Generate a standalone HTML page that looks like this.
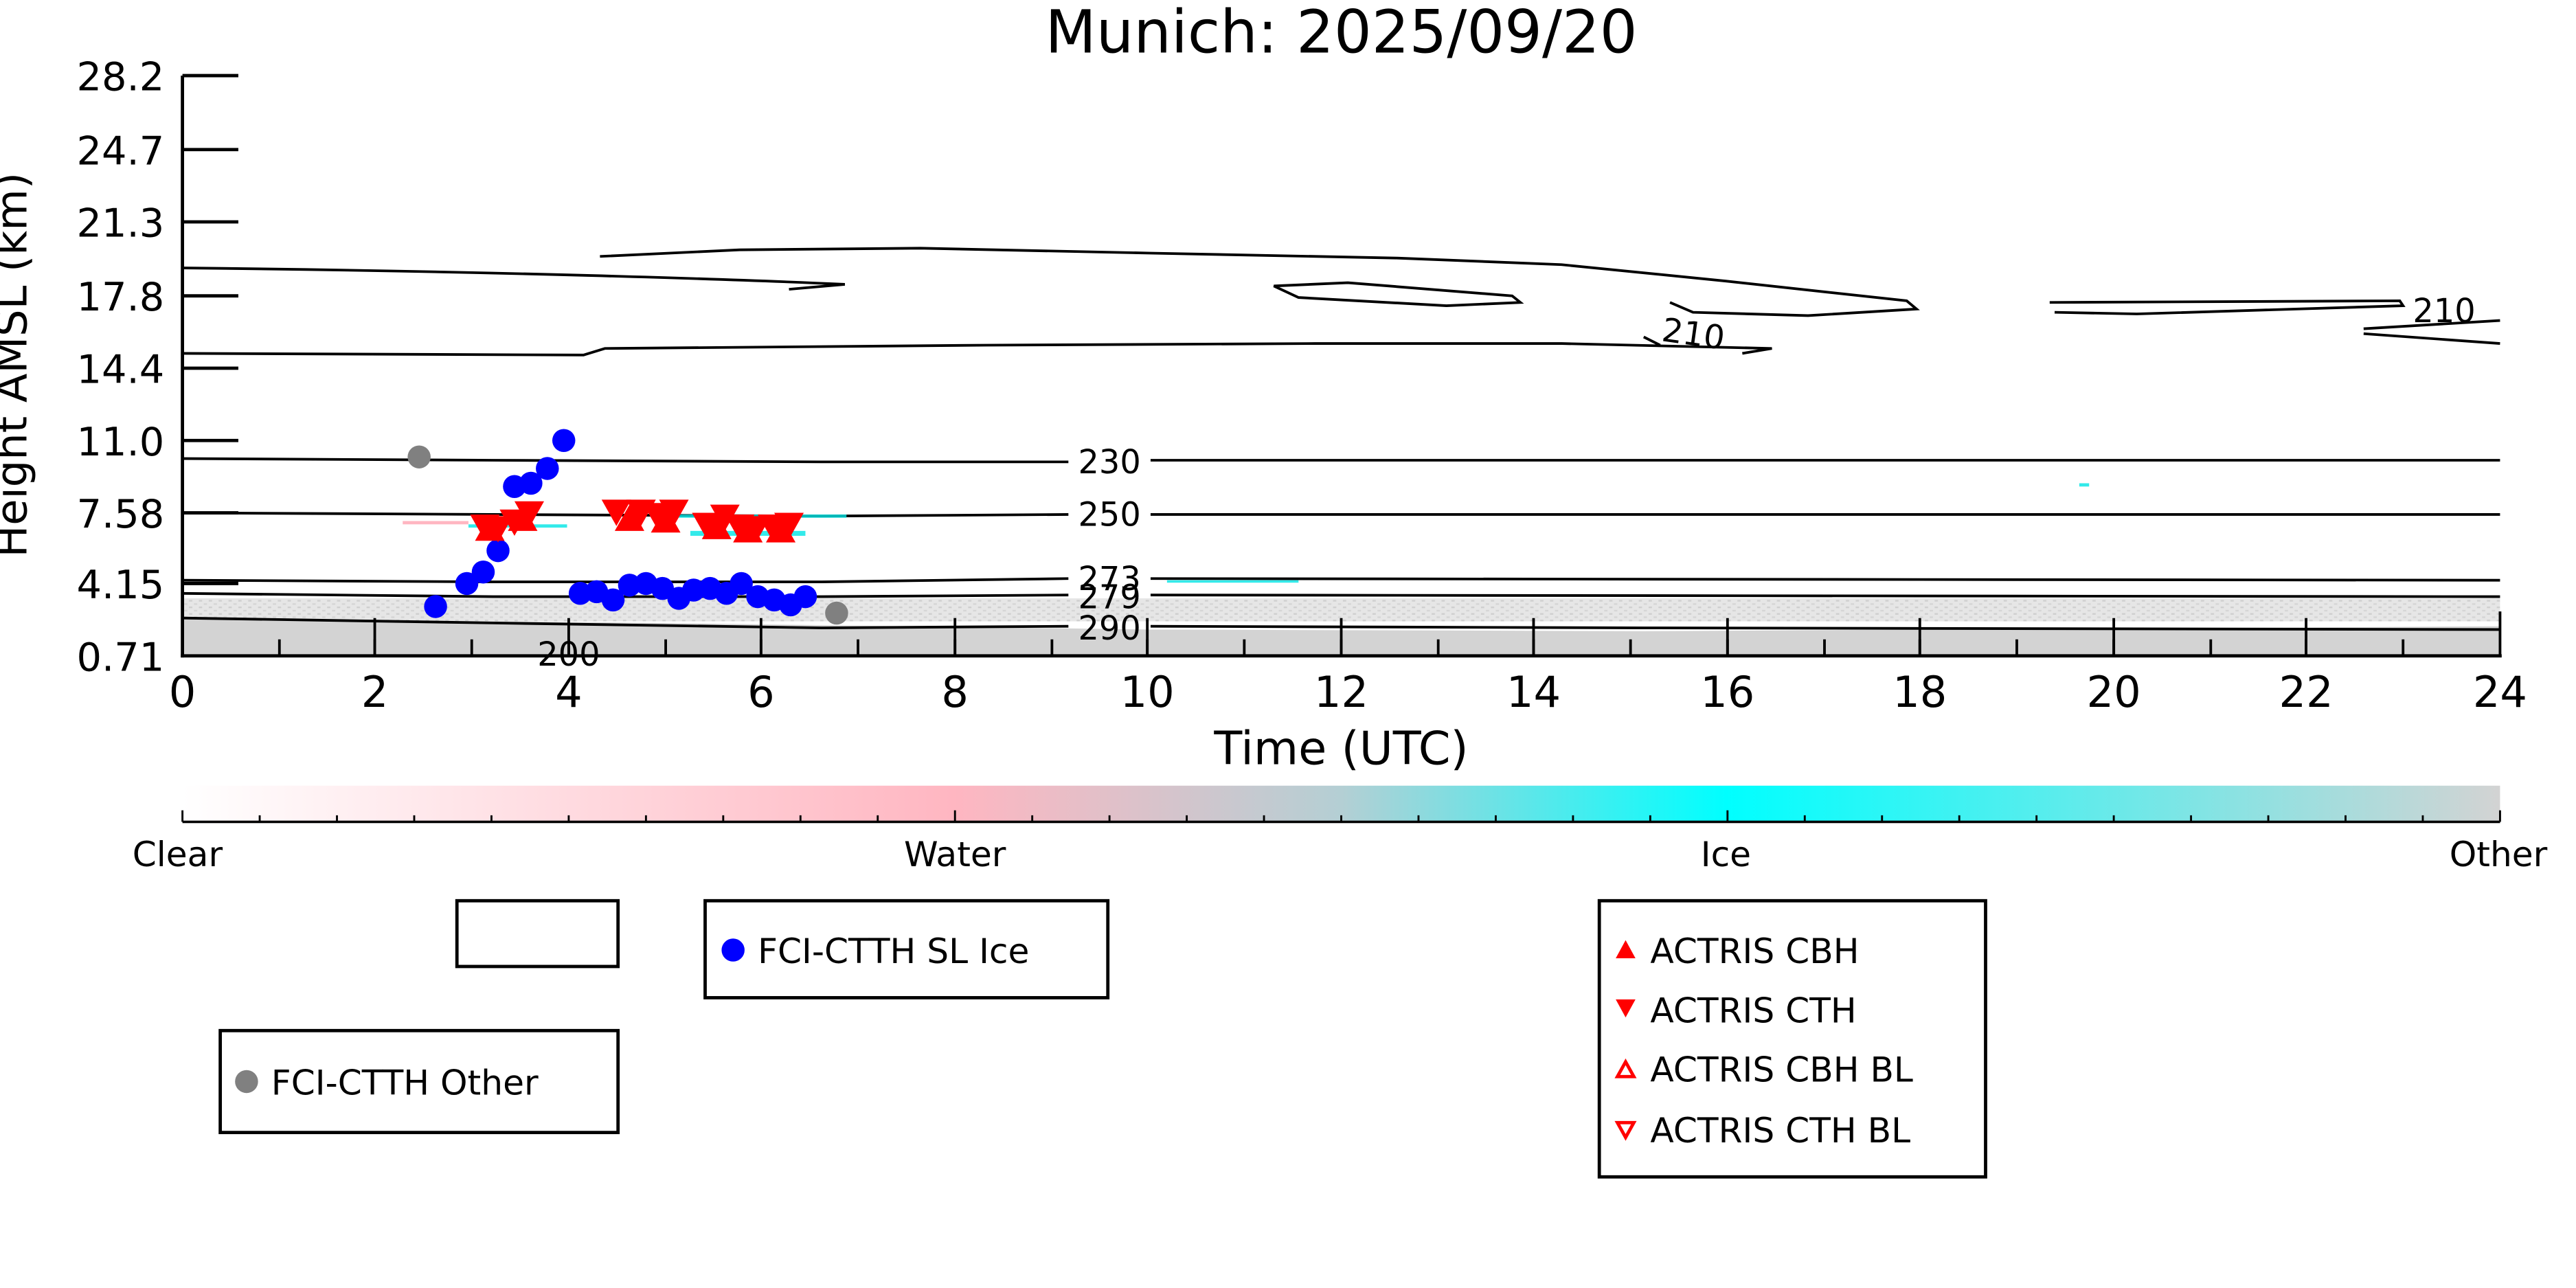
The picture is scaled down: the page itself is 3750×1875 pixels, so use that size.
<!DOCTYPE html>
<html><head><meta charset="utf-8"><style>html,body{margin:0;padding:0;background:#fff}svg{display:block}</style></head>
<body>
<svg width="3750" height="1875" viewBox="0 0 1560 780" xmlns="http://www.w3.org/2000/svg" font-family="'DejaVu Sans','Liberation Sans',sans-serif">
<defs>
<linearGradient id="cb" x1="0" x2="1" y1="0" y2="0">
<stop offset="0" stop-color="#ffffff"/><stop offset="0.333" stop-color="#ffb6c1"/><stop offset="0.5" stop-color="#b4cfd4"/><stop offset="0.666" stop-color="#00ffff"/><stop offset="1" stop-color="#d3d3d3"/>
</linearGradient>
<pattern id="spk" width="6" height="4" patternUnits="userSpaceOnUse"><rect width="6" height="4" fill="#e6e6e6"/><rect x="1" y="1" width="2" height="1" fill="#cfcfcf"/><rect x="4" y="3" width="2" height="1" fill="#d5d5d5"/></pattern>
</defs>
<g transform="scale(0.9954)">
<text x="816" y="32" font-size="36" text-anchor="middle">Munich: 2025/09/20</text>
<rect x="111" y="364" width="1410" height="14" fill="url(#spk)"/>
<path d="M111,376 L400,379 L700,383 L1000,384 L1521,381 L1521,399 L111,399 Z" fill="#d3d3d3"/>
<g fill="none" stroke="#000" stroke-width="1.6">
<path d="M111,279 L300,280 L500,281 L650,281 M700,280 L1521,280"/>
<path d="M111,312 L300,313 L500,314 L650,313 M700,313 L1521,313"/>
<path d="M111,353 L300,354 L500,354 L650,352 M700,352 L1521,353"/>
<path d="M111,361 L300,363 L500,363 L650,362 M700,362 L1521,363"/>
<path d="M111,376 L300,379 L500,382 L650,381 M700,381 L1000,382 L1521,383"/>
<path d="M111,163 C300,165 450,170 514,173 L480,176"/>
<path d="M365,156 L450,152 L560,151 L700,154 L850,157 L950,161 L1050,171 L1160,183 L1166,188 L1100,192 L1030,190 L1016,184"/>
<path d="M111,215 L355,216 L368,212 L600,210 L800,209 L950,209 L1078,212 L1060,215 M1010,210 L1000,205"/>
<path d="M775,174 L820,172 L920,180 L925,184 L880,186 L790,181 Z"/>
<path d="M1247,184 L1460,183 L1462,186 L1300,191 L1250,190"/>
<path d="M1438,200 L1521,195 M1438,203 L1521,209"/>
</g>
<g font-size="20" text-anchor="middle">
<text x="675" y="288">230</text><text x="675" y="320">250</text><text x="675" y="359">273</text><text x="675" y="370">279</text><text x="675" y="389">290</text><text x="1487" y="196">210</text><text x="1030" y="210" transform="rotate(8 1030 205)">210</text><text x="346" y="405">200</text>
</g>
<g fill="#00e5e5" opacity="0.8"><rect x="285" y="319" width="60" height="2"/><rect x="400" y="313" width="115" height="2"/><rect x="420" y="323" width="70" height="3"/><rect x="710" y="353" width="80" height="1.5"/><rect x="1265" y="294" width="6" height="2"/></g>
<rect x="245" y="317" width="40" height="2" fill="#ffb6c1"/>
<g stroke="#000" stroke-width="2">
<line x1="111" y1="46" x2="111" y2="400"/><line x1="110" y1="399" x2="1522" y2="399"/>
<path d="M111,46 H145 M111,91 H145 M111,135 H145 M111,180 H145 M111,224 H145 M111,268 H145 M111,312 H145 M111,355 H145"/>
</g>
<g stroke="#000" stroke-width="1.6">
<path d="M170,399V389M228,399V389M287,399V389M346,399V389M405,399V389M463,399V389M522,399V389M581,399V389M640,399V389M698,399V389M757,399V389M816,399V389M875,399V389M933,399V389M992,399V389M1051,399V389M1110,399V389M1168,399V389M1227,399V389M1286,399V389M1345,399V389M1403,399V389M1462,399V389M1521,399V372"/>
<path d="M228,399V376M346,399V376M463,399V376M581,399V376M698,399V376M816,399V376M933,399V376M1051,399V376M1168,399V376M1286,399V376M1403,399V376"/>
</g>
<g font-size="24" text-anchor="end">
<text x="100" y="55">28.2</text><text x="100" y="100">24.7</text><text x="100" y="144">21.3</text><text x="100" y="189">17.8</text><text x="100" y="233">14.4</text><text x="100" y="277">11.0</text><text x="100" y="321">7.58</text><text x="100" y="364">4.15</text><text x="100" y="408">0.71</text>
</g>
<g font-size="26" text-anchor="middle">
<text x="111" y="430">0</text><text x="228" y="430">2</text><text x="346" y="430">4</text><text x="463" y="430">6</text><text x="581" y="430">8</text><text x="698" y="430">10</text><text x="816" y="430">12</text><text x="933" y="430">14</text><text x="1051" y="430">16</text><text x="1168" y="430">18</text><text x="1286" y="430">20</text><text x="1403" y="430">22</text><text x="1521" y="430">24</text>
<text x="816" y="465" font-size="28">Time (UTC)</text>
<text x="16" y="222" font-size="26" transform="rotate(-90 16 222)">Height AMSL (km)</text>
</g>
<g fill="#0000ff">
<circle cx="265" cy="369" r="7"/><circle cx="284" cy="355" r="7"/><circle cx="294" cy="348" r="7"/><circle cx="303" cy="335" r="7"/><circle cx="313" cy="296" r="7"/><circle cx="323" cy="294" r="7"/><circle cx="333" cy="285" r="7"/><circle cx="343" cy="268" r="7"/><circle cx="353" cy="361" r="7"/><circle cx="363" cy="360" r="7"/><circle cx="373" cy="365" r="7"/><circle cx="383" cy="356" r="7"/><circle cx="393" cy="355" r="7"/><circle cx="403" cy="358" r="7"/><circle cx="413" cy="364" r="7"/><circle cx="422" cy="359" r="7"/><circle cx="432" cy="358" r="7"/><circle cx="442" cy="361" r="7"/><circle cx="451" cy="355" r="7"/><circle cx="461" cy="363" r="7"/><circle cx="471" cy="365" r="7"/><circle cx="481" cy="368" r="7"/><circle cx="490" cy="363" r="7"/>
</g>
<g fill="#808080"><circle cx="255" cy="278" r="7"/><circle cx="509" cy="373" r="7"/></g>
<g fill="#ff0000">
<path d="M-9,-8 H9 L0,8 Z" transform="translate(295,321)"/>
<path d="M-9,-8 H9 L0,8 Z" transform="translate(303,322)"/><path d="M-9,-8 H9 L0,8 Z" transform="translate(313,318)"/><path d="M-9,-8 H9 L0,8 Z" transform="translate(322,313)"/><path d="M-9,-8 H9 L0,8 Z" transform="translate(375,312)"/><path d="M-9,-8 H9 L0,8 Z" transform="translate(390,312)"/><path d="M-9,-8 H9 L0,8 Z" transform="translate(400,314)"/><path d="M-9,-8 H9 L0,8 Z" transform="translate(410,312)"/><path d="M-9,-8 H9 L0,8 Z" transform="translate(430,320)"/><path d="M-9,-8 H9 L0,8 Z" transform="translate(441,315)"/><path d="M-9,-8 H9 L0,8 Z" transform="translate(450,321)"/><path d="M-9,-8 H9 L0,8 Z" transform="translate(460,322)"/><path d="M-9,-8 H9 L0,8 Z" transform="translate(470,321)"/><path d="M-9,-8 H9 L0,8 Z" transform="translate(480,320)"/>
<path d="M-9,8 H9 L0,-8 Z" transform="translate(298,321)"/><path d="M-9,8 H9 L0,-8 Z" transform="translate(318,315)"/><path d="M-9,8 H9 L0,-8 Z" transform="translate(383,315)"/><path d="M-9,8 H9 L0,-8 Z" transform="translate(405,316)"/><path d="M-9,8 H9 L0,-8 Z" transform="translate(436,320)"/><path d="M-9,8 H9 L0,-8 Z" transform="translate(455,322)"/><path d="M-9,8 H9 L0,-8 Z" transform="translate(475,322)"/>
</g>
<rect x="111" y="478" width="1410" height="22" fill="url(#cb)"/>
<line x1="111" y1="500" x2="1521" y2="500" stroke="#000" stroke-width="1.5"/>
<g stroke="#000" stroke-width="1.2">
<path d="M111,500V493M158,500V496M205,500V496M252,500V496M299,500V496M346,500V496M393,500V496M440,500V496M487,500V496M534,500V496M581,500V493M628,500V496M675,500V496M722,500V496M769,500V496M816,500V496M863,500V496M910,500V496M957,500V496M1004,500V496M1051,500V493M1098,500V496M1145,500V496M1192,500V496M1239,500V496M1286,500V496M1333,500V496M1380,500V496M1427,500V496M1474,500V496M1521,500V493"/>
</g>
<g font-size="21" text-anchor="middle">
<text x="108" y="527">Clear</text><text x="581" y="527">Water</text><text x="1050" y="527">Ice</text><text x="1520" y="527">Other</text>
</g>
<g fill="none" stroke="#000" stroke-width="2">
<rect x="278" y="548" width="98" height="40"/>
<rect x="429" y="548" width="245" height="59"/>
<rect x="134" y="627" width="242" height="62"/>
<rect x="973" y="548" width="235" height="168"/>
</g>
<circle cx="446" cy="578" r="7" fill="#0000ff"/>
<circle cx="150" cy="658" r="7" fill="#808080"/>
<g font-size="21">
<text x="461" y="586">FCI-CTTH SL Ice</text>
<text x="165" y="666">FCI-CTTH Other</text>
<text x="1004" y="586">ACTRIS CBH</text>
<text x="1004" y="622">ACTRIS CTH</text>
<text x="1004" y="658">ACTRIS CBH BL</text>
<text x="1004" y="695">ACTRIS CTH BL</text>
</g>
<path d="M983,583 L995,583 L989,572 Z" fill="#f00"/>
<path d="M983,608 L995,608 L989,619 Z" fill="#f00"/>
<path d="M984,655 L994,655 L989,646 Z" fill="none" stroke="#f00" stroke-width="2"/>
<path d="M984,683 L994,683 L989,692 Z" fill="none" stroke="#f00" stroke-width="2"/>
</g>
</svg>
</body></html>
